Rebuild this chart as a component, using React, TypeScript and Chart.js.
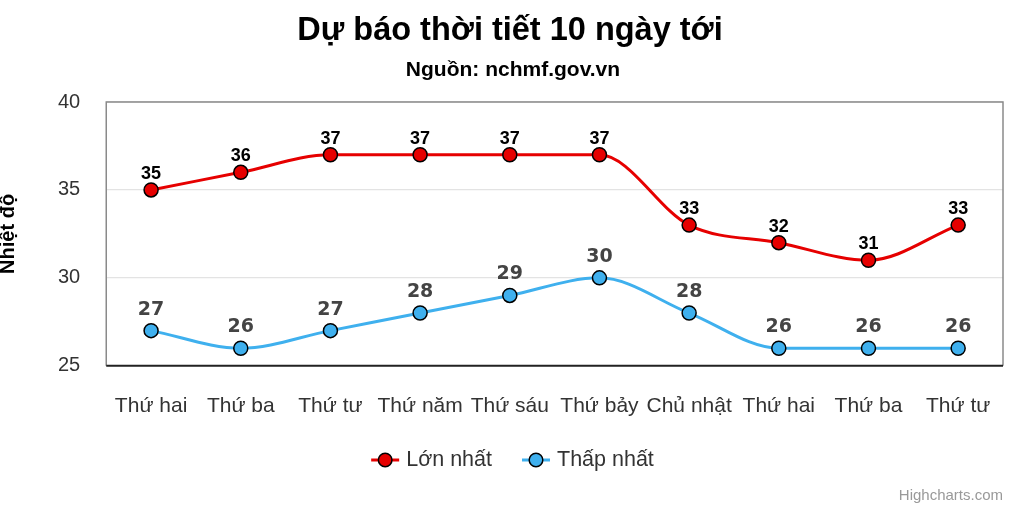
import React, { useEffect, useRef } from "react";
import { Chart, registerables } from "chart.js";

Chart.register(...registerables);

const categories = ["Thứ hai", "Thứ ba", "Thứ tư", "Thứ năm", "Thứ sáu", "Thứ bảy", "Chủ nhật", "Thứ hai", "Thứ ba", "Thứ tư"];
const maxTemps = [35, 36, 37, 37, 37, 37, 33, 32, 31, 33];
const minTemps = [27, 26, 27, 28, 29, 30, 28, 26, 26, 26];
const yTicks = [25, 30, 35, 40];
const seriesNames = ["Lớn nhất", "Thấp nhất"];
const titleText = "Dự báo thời tiết 10 ngày tới";
const subtitleText = "Nguồn: nchmf.gov.vn";
const creditText = "Highcharts.com";

const FONT = "'Liberation Sans', Arial, sans-serif";
const VFONT = "'DejaVu Sans', Verdana, sans-serif";
const RED = "#e60000";
const BLUE = "#3fb0ee";

function drawMarker(ctx: CanvasRenderingContext2D, x: number, y: number, color: string) {
  ctx.save();
  ctx.strokeStyle = color;
  ctx.lineWidth = 3;
  ctx.beginPath();
  ctx.moveTo(x, y);
  ctx.lineTo(x + 28, y);
  ctx.stroke();
  ctx.fillStyle = color;
  ctx.strokeStyle = "#000";
  ctx.lineWidth = 1.5;
  ctx.beginPath();
  ctx.arc(x + 14, y, 6.8, 0, Math.PI * 2);
  ctx.fill();
  ctx.stroke();
  ctx.restore();
}

const framePlugin = {
  id: "frame",
  beforeDatasetsDraw(chart: any) {
    const { ctx, chartArea } = chart;
    ctx.save();
    ctx.strokeStyle = "#8a8a8a";
    ctx.lineWidth = 1.5;
    ctx.beginPath();
    ctx.moveTo(chartArea.left, chartArea.bottom);
    ctx.lineTo(chartArea.left, chartArea.top);
    ctx.lineTo(chartArea.right, chartArea.top);
    ctx.lineTo(chartArea.right, chartArea.bottom);
    ctx.stroke();
    ctx.strokeStyle = "#222";
    ctx.lineWidth = 2;
    ctx.beginPath();
    ctx.moveTo(chartArea.left, chartArea.bottom);
    ctx.lineTo(chartArea.right, chartArea.bottom);
    ctx.stroke();
    ctx.restore();
  },
};

const labelsPlugin = {
  id: "valueLabels",
  afterDatasetsDraw(chart: any) {
    const { ctx } = chart;
    const styles = [
      { font: `bold 18px ${FONT}`, color: "#000", offset: 16 },
      { font: `bold 19px ${VFONT}`, color: "#444", offset: 21 },
    ];
    chart.data.datasets.forEach((ds: any, i: number) => {
      const meta = chart.getDatasetMeta(i);
      const s = styles[i];
      ctx.save();
      ctx.font = s.font;
      ctx.fillStyle = s.color;
      ctx.textAlign = "center";
      ctx.textBaseline = "middle";
      meta.data.forEach((pt: any, j: number) => {
        ctx.fillText(String(ds.data[j]), pt.x, pt.y - s.offset);
      });
      ctx.restore();
    });
  },
};

const decorPlugin = {
  id: "decor",
  afterDraw(chart: any) {
    const { ctx, width } = chart;
    ctx.save();
    ctx.textBaseline = "middle";
    ctx.textAlign = "center";
    ctx.fillStyle = "#000";
    ctx.font = `bold 32.5px ${FONT}`;
    ctx.fillText(titleText, 510, 31);
    ctx.font = `bold 21px ${FONT}`;
    ctx.fillText(subtitleText, 513, 70);

    // legend
    ctx.font = `21.5px ${FONT}`;
    const colors = [RED, BLUE];
    const itemWidths = seriesNames.map((n) => 28 + 7 + ctx.measureText(n).width);
    const total = itemWidths.reduce((a, b) => a + b, 0) + 30 * (seriesNames.length - 1);
    let x = 512.5 - total / 2;
    const y = 460;
    seriesNames.forEach((n, i) => {
      drawMarker(ctx, x, y, colors[i]);
      ctx.fillStyle = "#333";
      ctx.textAlign = "left";
      ctx.fillText(n, x + 35, y);
      x += itemWidths[i] + 30;
    });

    ctx.font = `15px ${FONT}`;
    ctx.fillStyle = "#999";
    ctx.textAlign = "right";
    ctx.fillText(creditText, width - 17, 496);
    ctx.restore();
  },
};

export default function App() {
  const ref = useRef<HTMLCanvasElement>(null);
  useEffect(() => {
    const chart = new Chart(ref.current!, {
      type: "line",
      data: {
        labels: categories,
        datasets: [
          {
            label: seriesNames[0],
            data: maxTemps,
            borderColor: RED,
            backgroundColor: RED,
            borderWidth: 3,
            pointRadius: 7,
            pointBorderColor: "#000",
            pointBorderWidth: 1.5,
            pointBackgroundColor: RED,
            pointStyle: "circle",
            cubicInterpolationMode: "monotone",
          },
          {
            label: seriesNames[1],
            data: minTemps,
            borderColor: BLUE,
            backgroundColor: BLUE,
            borderWidth: 3,
            pointRadius: 7,
            pointBorderColor: "#000",
            pointBorderWidth: 1.5,
            pointBackgroundColor: BLUE,
            pointStyle: "circle",
            cubicInterpolationMode: "monotone",
          },
        ],
      },
      options: {
        animation: false,
        responsive: false,
        layout: { padding: { top: 102, right: 17, bottom: 71, left: 0 } },
        scales: {
          x: {
            offset: true,
            grid: { display: false },
            border: { display: false },
            ticks: { color: "#333", font: { family: FONT, size: 21 }, padding: 20, maxRotation: 0, autoSkip: false },
          },
          y: {
            min: 25,
            max: 40,
            afterBuildTicks: (axis: any) => {
              axis.ticks = yTicks.map((v) => ({ value: v }));
            },
            grid: { color: "#e3e3e3", lineWidth: 1.2, drawTicks: false },
            border: { display: false },
            ticks: { color: "#333", font: { family: FONT, size: 20 }, padding: 26 },
            title: {
              display: true,
              text: "Nhiệt độ",
              color: "#000",
              font: { family: FONT, size: 20, weight: "bold" },
              padding: { top: -4, bottom: 12 },
            },
          },
        },
        plugins: {
          title: { display: false },
          subtitle: { display: false },
          legend: { display: false },
          tooltip: { enabled: false },
        },
      },
      plugins: [framePlugin, labelsPlugin, decorPlugin],
    });
    return () => chart.destroy();
  }, []);
  return (
    <div style={{ position: "absolute", left: 0, top: 0, width: 1020, height: 510, background: "#fff" }}>
      <canvas ref={ref} width={1020} height={510} />
    </div>
  );
}
